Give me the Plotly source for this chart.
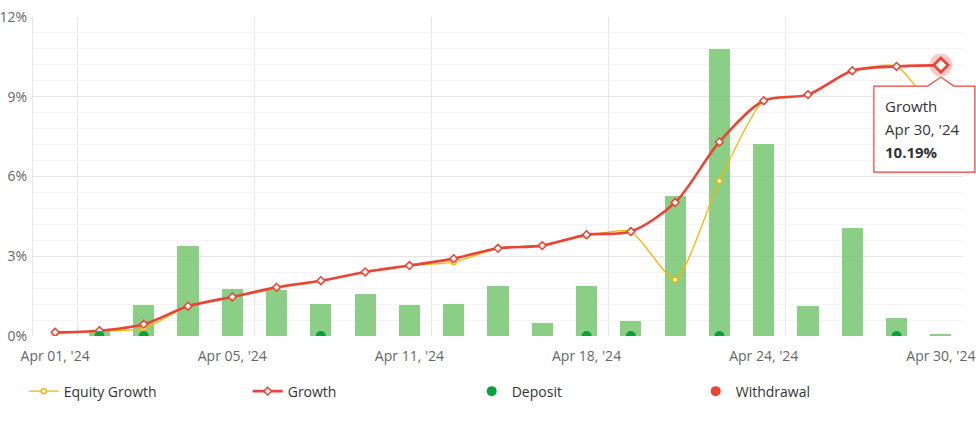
import plotly.graph_objects as go

dates = ["Apr 01, '24", "Apr 02, '24", "Apr 03, '24", "Apr 04, '24", "Apr 05, '24",
         "Apr 08, '24", "Apr 09, '24", "Apr 10, '24", "Apr 11, '24", "Apr 12, '24",
         "Apr 15, '24", "Apr 16, '24", "Apr 18, '24", "Apr 19, '24", "Apr 22, '24",
         "Apr 23, '24", "Apr 24, '24", "Apr 25, '24", "Apr 26, '24", "Apr 29, '24",
         "Apr 30, '24"]
growth = [0.14, 0.20, 0.44, 1.12, 1.47, 1.83, 2.08, 2.41, 2.65, 2.91, 3.30,
          3.40, 3.81, 3.93, 5.02, 7.30, 8.85, 9.08, 9.98, 10.14, 10.19]
equity_growth = [0.08, 0.19, 0.29, 1.12, 1.45, 1.80, 2.07, 2.40, 2.65, 2.78, 3.30,
                 3.40, 3.77, 3.93, 2.12, 5.83, 8.85, 9.08, 9.98, 10.14, 8.0]
daily_bars = [0.0, 0.19, 1.17, 3.37, 1.77, 1.73, 1.21, 1.58, 1.17, 1.21, 1.87,
              0.50, 1.87, 0.55, 5.25, 10.78, 7.23, 1.12, 4.07, 0.68, 0.09]
deposit = [None, 0, 0, None, None, None, 0, None, None, None, None,
           None, 0, 0, None, 0, None, None, None, 0, None]
withdrawal = [None] * 21
tick_every = 4
y_ticks = [0, 3, 6, 9, 12]

x = list(range(len(dates)))
tick_idx = x[::tick_every]
y_max = y_ticks[-1]

RED = "#eb4336"
YEL = "#f7b500"
GRN = "#0aa13b"
BAR = "rgba(112,196,106,0.82)"
FONT = "Open Sans"

fig = go.Figure()
fig.add_trace(go.Bar(x=x, y=daily_bars, width=0.48, marker=dict(color=BAR, line=dict(width=0)),
                     showlegend=False, hoverinfo="skip"))
fig.add_trace(go.Scatter(x=x, y=equity_growth, name="Equity Growth", mode="lines+markers",
                         line=dict(color=YEL, width=1.3, shape="spline", smoothing=0.6),
                         marker=dict(symbol="circle", size=5, color="white", line=dict(color=YEL, width=1.5)),
                         legendrank=1))
fig.add_trace(go.Scatter(x=x, y=growth, name="Growth", mode="lines+markers",
                         line=dict(color=RED, width=2.6, shape="spline", smoothing=0.85),
                         marker=dict(symbol="diamond", size=6, color="white", line=dict(color=RED, width=1.5)),
                         legendrank=2))
fig.add_trace(go.Scatter(x=x, y=deposit, name="Deposit", mode="markers",
                         marker=dict(symbol="circle", size=10, color=GRN), legendrank=3))
fig.add_trace(go.Scatter(x=x, y=withdrawal, name="Withdrawal", mode="markers",
                         marker=dict(symbol="circle", size=10, color=RED), legendrank=4))
# hover highlight on last Growth point
fig.add_trace(go.Scatter(x=[x[-1]], y=[growth[-1]], mode="markers", showlegend=False, hoverinfo="skip",
                         cliponaxis=False,
                         marker=dict(symbol="circle", size=23, color="rgba(235,67,54,0.27)")))
fig.add_trace(go.Scatter(x=[x[-1]], y=[growth[-1]], mode="markers", showlegend=False, hoverinfo="skip",
                         cliponaxis=False,
                         marker=dict(symbol="diamond", size=11, color="white", line=dict(color=RED, width=2.8))))

# tooltip callout shape anchored at the last point (pixel-sized, paper-referenced so it is not clipped)
anchor_px = (x[-1] + 0.5) / len(dates)
anchor_py = growth[-1] / y_max
fig.add_shape(type="path", xref="paper", yref="paper", xsizemode="pixel", ysizemode="pixel",
              xanchor=anchor_px, yanchor=anchor_py,
              path="M -65,-22 L -13,-22 L 0,-13 L 13,-22 L 36,-22 L 36,-109 L -65,-109 Z",
              fillcolor="rgba(0,0,0,0.06)", line=dict(width=0), layer="above")
fig.add_shape(type="path", xref="paper", yref="paper", xsizemode="pixel", ysizemode="pixel",
              xanchor=anchor_px, yanchor=anchor_py,
              path="M -67,-21 L -13,-21 L 0,-12 L 13,-21 L 34,-21 L 34,-107 L -67,-107 Z",
              fillcolor="white", line=dict(color=RED, width=1.2), layer="above")
tip_lines = ["Growth", dates[-1], "<b>%.2f%%</b>" % growth[-1]]
for i, t in enumerate(tip_lines):
    fig.add_annotation(x=x[-1], y=growth[-1], xref="x", yref="y", text=t, showarrow=False,
                       xanchor="left", yanchor="middle", xshift=-58, yshift=-(41 + 23 * i),
                       font=dict(family=FONT, size=15, color="#333333"))

tick_text = [dates[i] for i in tick_idx]

fig.update_layout(
    width=976, height=421,
    margin=dict(l=33, r=13, t=17, b=85, autoexpand=False),
    paper_bgcolor="white", plot_bgcolor="white",
    font=dict(family=FONT, size=14, color="#666666"),
    bargap=0,
    legend=dict(orientation="h", x=-0.01, xanchor="left", y=-0.124, yanchor="top",
                font=dict(family=FONT, size=14, color="#333333"),
                entrywidth=179, entrywidthmode="pixels", traceorder="normal",
                itemclick=False),
    hovermode=False,
)
fig.update_xaxes(range=[-0.5, len(dates) - 0.5], tickmode="array", tickvals=tick_idx,
                 ticktext=tick_text, showgrid=False, zeroline=False,
                 ticks="", ticklabelstandoff=10, tickfont=dict(size=14, color="#666666"),
                 ticklabeloverflow="allow",
                 minor=dict(tickmode="linear", tick0=0.5, dtick=tick_every, showgrid=True,
                            gridcolor="#e6e6e6", gridwidth=1, ticks=""),
                 showline=False, automargin=False)
fig.update_yaxes(range=[0, y_max], tickmode="array", tickvals=y_ticks,
                 ticktext=["%d%%" % v for v in y_ticks], showgrid=True, gridcolor="#e6e6e6",
                 gridwidth=1, zeroline=False, ticks="", tickfont=dict(size=14, color="#666666"),
                 ticklabeloverflow="allow",
                 minor=dict(tickmode="linear", tick0=0, dtick=0.6, showgrid=True,
                            gridcolor="#f4f4f4", gridwidth=1),
                 showline=True, linecolor="#e6e6e6", linewidth=1, ticklabelstandoff=2,
                 automargin=False)

fig.write_html("out.html", config={"displayModeBar": False},
               post_script="document.body.style.margin='0';document.body.style.overflow='hidden';")
